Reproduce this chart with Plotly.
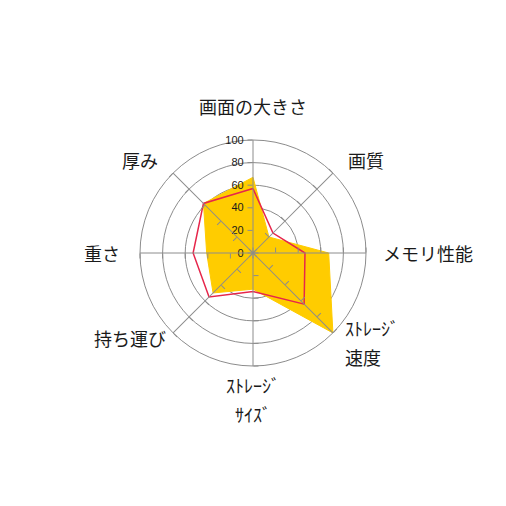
import math
import plotly.graph_objects as go

# 評価項目（時計回り、上から）
categories = ["画面の大きさ", "画質", "メモリ性能", "ｽﾄﾚｰｼﾞ速度",
              "ｽﾄﾚｰｼﾞｻｲｽﾞ", "持ち運び", "重さ", "厚み"]
label_lines = [["画面の大きさ"], ["画質"], ["メモリ性能"], ["ｽﾄﾚｰｼﾞ", "速度"],
               ["ｽﾄﾚｰｼﾞ", "ｻｲｽﾞ"], ["持ち運び"], ["重さ"], ["厚み"]]
series_a = [67, 20, 67, 100, 32, 50, 41, 62]   # 黄色（塗りつぶし）
series_b = [57, 25, 46, 64, 34, 55, 53, 62]    # 赤線
radial_ticks = [0, 20, 40, 60, 80, 100]

W = H = 506
cx, cy, R = 253, 253, 113          # 円の中心と半径（px）
label_dist = [147, 131, 128, 127, 146, 120, 131, 131]
line_gap = 29

grid_col = "#8c8c8c"
jp_font = "Noto Sans CJK JP, Meiryo, sans-serif"
dom_x = [(cx - R) / W, (cx + R) / W]
dom_y = [1 - (cy + R) / H, 1 - (cy - R) / H]

fig = go.Figure()

fig.add_trace(go.Scatterpolar(
    r=series_a + series_a[:1], theta=categories + categories[:1],
    mode="lines", fill="toself", fillcolor="#FFCC00",
    line=dict(color="#FFCC00", width=1), subplot="polar"))
fig.add_trace(go.Scatterpolar(
    r=series_b + series_b[:1], theta=categories + categories[:1],
    mode="lines", line=dict(color="#E6264B", width=1.5), subplot="polar"))

fig.update_layout(
    width=W, height=H, showlegend=False,
    margin=dict(l=0, r=0, t=0, b=0),
    paper_bgcolor="white",
    polar=dict(
        domain=dict(x=dom_x, y=dom_y),
        bgcolor="white",
        radialaxis=dict(range=[0, 100], tickvals=radial_ticks,
                        showticklabels=False, ticks="", showline=False,
                        gridcolor=grid_col, gridwidth=1),
        angularaxis=dict(rotation=90, direction="clockwise",
                         showgrid=False, showline=True, linecolor=grid_col,
                         showticklabels=False, ticks=""),
    ),
)

# 軸線と目盛を塗りつぶしの上に重ねる（項目ごとに1軸）
for i in range(len(categories)):
    ang = 90 - i * 360 / len(categories)
    name = "polar%d" % (i + 2)
    fig.add_trace(go.Scatterpolar(r=[], theta=[], subplot=name))
    fig.layout[name] = dict(
        domain=dict(x=dom_x, y=dom_y),
        bgcolor="rgba(0,0,0,0)",
        radialaxis=dict(range=[0, 100], tickvals=radial_ticks, angle=ang,
                        side="counterclockwise", showgrid=False,
                        showline=True, linecolor=grid_col, linewidth=1,
                        ticks="outside", ticklen=5, tickcolor=grid_col,
                        showticklabels=(i == 0), tickangle=90,
                        tickfont=dict(family="Liberation Sans Narrow, Arial Narrow, Liberation Sans",
                                      size=11, color="#1a1a1a")),
        angularaxis=dict(visible=False, rotation=90, direction="clockwise"),
    )

# 項目ラベル
for i, lines in enumerate(label_lines):
    a = math.radians(90 - i * 360 / len(categories))
    px = cx + label_dist[i] * math.cos(a)
    py = cy - label_dist[i] * math.sin(a)
    c = math.cos(a)
    xanchor = "center" if abs(c) < 0.1 else ("left" if c > 0 else "right")
    for k, txt in enumerate(lines):
        ly = py + (k - (len(lines) - 1) / 2) * line_gap
        fig.add_annotation(x=px / W, y=1 - ly / H, xref="paper", yref="paper",
                           text=txt, showarrow=False, xanchor=xanchor,
                           yanchor="middle",
                           font=dict(family=jp_font, size=18, color="#1a1a1a"))

fig.write_html("out.html", config={"displayModeBar": False},
               post_script="document.body.style.margin='0';")
